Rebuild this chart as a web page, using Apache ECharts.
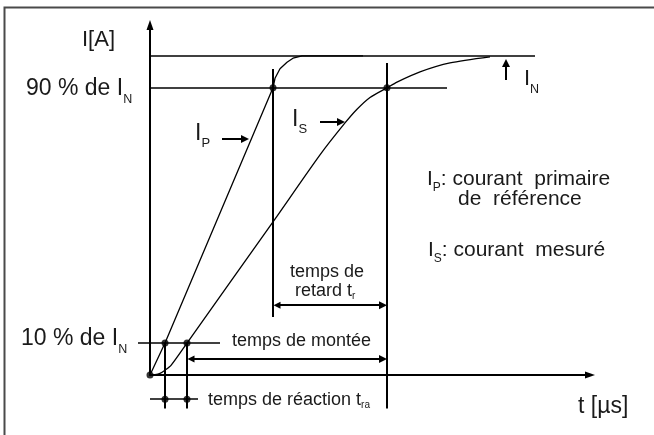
<!DOCTYPE html>
<html><head><meta charset="utf-8">
<script src="https://cdn.jsdelivr.net/npm/echarts@6/dist/echarts.min.js"></script>
<style>html,body{margin:0;padding:0;background:#fff}#c{width:654px;height:435px}</style>
</head><body><div id="c"></div>
<script>
// ---------- data: time in µs (arbitrary scale), current in % of I_N ----------
const I_N = 100;
const LEVEL_90 = 90;
const LEVEL_10 = 10;
// primary reference current I_P
const primaryTime    = [0, 1.5, 12.3, 12.5, 13.0, 13.7, 14.3, 15.2, 21.3];
const primaryCurrent = [0, 10,  90,   93,   96,   98,   99.3, 100,  100];
// measured current I_S
const measuredTime    = [0, 0.5, 1.0, 1.5, 2.1, 3.7, 12.3, 17.0, 19.5, 20.7, 22.0, 23.7, 24.7, 27.0, 30.0, 34.0];
const measuredCurrent = [0, 0.1, 0.5, 1.5, 3.0, 10,  48,   69,   79,   83.3, 87.0, 90,   91.8, 95.0, 97.8, 99.7];
// characteristic instants
const t10P = 1.5, t10S = 3.7, t90P = 12.3, t90S = 23.7;
// extents of reference lines (time) and annotation levels (current)
const levelIN_end = 38.5, level90_end = 29.7, level10_range = [-1.2, 7.0];
const reactionLevel = -7.6, riseLevel = 5.0, delayLevel = 21.9;
const verticalBottom = -10.5, vertical90P_range = [18.2, 95.9], vertical90S_top = 97.8;
const reactionEnd = 4.8;
const pointerIN = [35.6, 92.5, 97.8];      // t, from, to
const pointerIP = [7.2, 9.5, 74.0];        // from t, to t, level
const pointerIS = [17.0, 19.1, 79.3];
const axisMax = [44, 109.7];

const FONT = '"Liberation Sans", Arial, Helvetica, sans-serif';
const BLACK = '#000';
const TEXT = '#1a1a1a';

function zip(a, b) { return a.map((v, i) => [v, b[i]]); }
function seg(a, b) { return { coords: [a, b] }; }

const plainLines = [
  seg([0, I_N], [levelIN_end, I_N]),
  seg([0, LEVEL_90], [level90_end, LEVEL_90]),
  seg([level10_range[0], LEVEL_10], [level10_range[1], LEVEL_10]),
  seg([0, reactionLevel], [reactionEnd, reactionLevel])
];
const verticalLines = [
  seg([t10P, LEVEL_10], [t10P, verticalBottom]),
  seg([t10S, LEVEL_10], [t10S, verticalBottom]),
  seg([t90P, vertical90P_range[1]], [t90P, vertical90P_range[0]]),
  seg([t90S, vertical90S_top], [t90S, verticalBottom])
];
const arrowHalf = 0.4; // half of arrow head length in time units
const doubleArrows = [
  seg([t90P + arrowHalf, delayLevel], [t90S - arrowHalf, delayLevel]),
  seg([t10S + arrowHalf, riseLevel], [t90S - arrowHalf, riseLevel])
];
const singleArrows = [
  seg([pointerIN[0], pointerIN[1]], [pointerIN[0], pointerIN[2]]),
  seg([pointerIP[0], pointerIP[2]], [pointerIP[1], pointerIP[2]]),
  seg([pointerIS[0], pointerIS[2]], [pointerIS[1], pointerIS[2]])
];
const dots = [[t90P, LEVEL_90], [t90S, LEVEL_90], [t10P, LEVEL_10], [t10S, LEVEL_10], [0, 0],
              [t10P, reactionLevel], [t10S, reactionLevel]];

// ---------- text helpers ----------
const mctx = document.createElement('canvas').getContext('2d');
function textWidth(s, size) { mctx.font = size + 'px ' + FONT; return mctx.measureText(s).width; }
function txt(s, x, base, size) {
  return { type: 'text', x: x, y: base - 0.35 * size, z: 100,
    style: { text: s, fill: TEXT, fontSize: size, fontFamily: FONT, verticalAlign: 'middle', align: 'left' } };
}
// parts: [text, fontSize, baselineShift]
function label(x, base, parts) {
  const out = []; let cx = x;
  parts.forEach(p => { out.push(txt(p[0], cx, base + (p[2] || 0), p[1])); cx += textWidth(p[0], p[1]); });
  return out;
}

const texts = [].concat(
  label(82, 48, [['I[A]', 22]]),
  label(26, 97, [['90 % de I', 23], ['N', 12.5, 6.5]]),
  label(21, 347, [['10 % de I', 23], ['N', 12.5, 6.5]]),
  label(195, 142, [['I', 23], ['P', 13, 6]]),
  label(292, 128, [['I', 23], ['S', 13, 5.5]]),
  label(524, 87, [['I', 22], ['N', 12.5, 7]]),
  label(427, 187, [['I', 21], ['P', 12, 5], [': courant  primaire', 21]]),
  label(458, 207, [['de  référence', 21]]),
  label(428, 258, [['I', 21], ['S', 12, 5], [': courant  mesuré', 21]]),
  label(290, 278, [['temps de', 18]]),
  label(295, 297, [['retard t', 18], ['r', 10, 3]]),
  label(232, 347, [['temps de montée', 18]]),
  label(208, 406, [['temps de réaction t', 18], ['ra', 10, 3]]),
  label(578, 415, [['t [µs]', 23]])
);

const chart = echarts.init(document.getElementById('c'), null, { renderer: 'canvas' });
chart.setOption({
  animation: false,
  backgroundColor: '#fff',
  grid: { left: 150, right: 64, top: 25, bottom: 60, containLabel: false },
  xAxis: { type: 'value', min: 0, max: axisMax[0],
    axisLine: { show: true, onZero: false, symbol: ['none', 'triangle'], symbolSize: [7, 10], lineStyle: { color: BLACK, width: 2 } },
    axisTick: { show: false }, axisLabel: { show: false }, splitLine: { show: false } },
  yAxis: { type: 'value', min: 0, max: axisMax[1],
    axisLine: { show: true, onZero: false, symbol: ['none', 'triangle'], symbolSize: [7, 10], lineStyle: { color: BLACK, width: 2 } },
    axisTick: { show: false }, axisLabel: { show: false }, splitLine: { show: false } },
  series: [
    { name: 'I_P', type: 'line', data: zip(primaryTime, primaryCurrent), showSymbol: false, symbol: 'none', clip: false,
      lineStyle: { color: BLACK, width: 1.3 } },
    { name: 'I_S', type: 'line', data: zip(measuredTime, measuredCurrent), showSymbol: false, symbol: 'none', clip: false,
      smooth: 0.25, lineStyle: { color: BLACK, width: 1.3 } },
    { type: 'lines', coordinateSystem: 'cartesian2d', data: plainLines, symbol: ['none', 'none'], clip: false,
      lineStyle: { color: BLACK, width: 1.5, opacity: 1 } },
    { type: 'lines', coordinateSystem: 'cartesian2d', data: verticalLines, symbol: ['none', 'none'], clip: false,
      lineStyle: { color: BLACK, width: 2, opacity: 1 } },
    { type: 'lines', coordinateSystem: 'cartesian2d', data: doubleArrows, symbol: ['triangle', 'triangle'], symbolSize: [7, 8], clip: false,
      lineStyle: { color: BLACK, width: 2, opacity: 1 } },
    { type: 'lines', coordinateSystem: 'cartesian2d', data: singleArrows, symbol: ['none', 'triangle'], symbolSize: [7, 8], clip: false,
      lineStyle: { color: BLACK, width: 2, opacity: 1 } },
    { type: 'scatter', data: dots, symbolSize: 7, clip: false, itemStyle: { color: BLACK } }
  ],
  graphic: [
    { type: 'polyline', shape: { points: [[4.5, 435], [4.5, 7.5], [654, 7.5]] }, style: { stroke: '#4a4a4a', lineWidth: 2, fill: null } }
  ].concat(texts)
});
</script>
</body></html>
